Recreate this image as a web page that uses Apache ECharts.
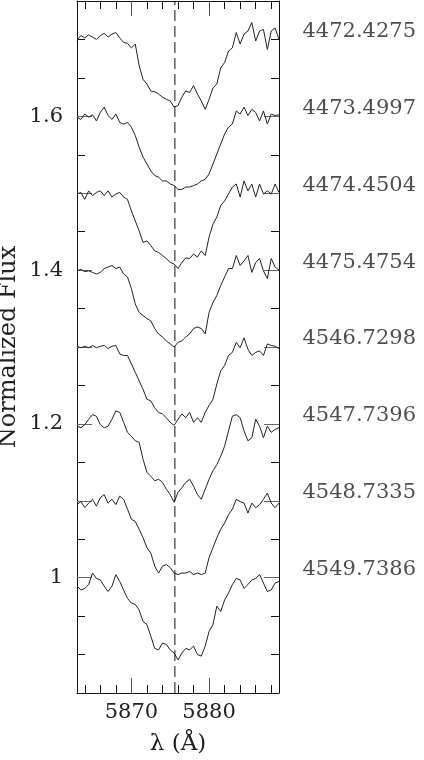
<!DOCTYPE html>
<html>
<head>
<meta charset="utf-8">
<title>He I 5876</title>
<script src="https://cdn.jsdelivr.net/npm/echarts@6/dist/echarts.min.js"></script>
<style>
html,body{margin:0;padding:0;background:#fff;}
#main{width:424px;height:760px;}
</style>
</head>
<body>
<div id="main"></div>
<script>
// wavelength grid (Angstrom)
var wave = [5863,5863.5,5864,5864.5,5865,5865.5,5866,5866.5,5867,5867.5,
	5868,5868.5,5869,5869.5,5870,5870.5,5871,5871.5,5872,5872.5,
	5873,5873.5,5874,5874.5,5875,5875.5,5876,5876.5,5877,5877.5,
	5878,5878.5,5879,5879.5,5880,5880.5,5881,5881.5,5882,5882.5,
	5883,5883.5,5884,5884.5,5885,5885.5,5886,5886.5,5887,5887.5,
	5888,5888.5,5889];

var dates = ['4472.4275','4473.4997','4474.4504','4475.4754','4546.7298','4547.7396','4548.7335','4549.7386'];
var offsets = [0.7,0.6,0.5,0.4,0.3,0.2,0.1,0];

var flux1 = [0.999,1.005,1.002,1.006,1.003,1.000,1.005,1.008,1.003,1.007,
	1.009,1.002,0.996,0.995,0.989,0.994,0.966,0.948,0.942,0.933,
	0.932,0.929,0.925,0.922,0.920,0.912,0.914,0.925,0.933,0.931,
	0.940,0.929,0.920,0.909,0.922,0.937,0.942,0.963,0.970,0.985,
	0.989,1.009,0.994,1.007,1.011,1.022,0.998,1.011,1.013,0.987,
	1.011,1.015,1.000];
var flux2 = [0.999,0.996,1.003,0.999,1.002,0.994,1.005,1.012,1.001,0.996,
	1.003,0.992,0.990,0.992,0.986,0.975,0.960,0.947,0.938,0.929,
	0.923,0.921,0.916,0.916,0.912,0.910,0.905,0.905,0.908,0.908,
	0.910,0.912,0.916,0.918,0.925,0.938,0.951,0.964,0.977,0.986,
	0.990,1.007,1.003,1.012,1.001,1.009,1.005,0.994,1.007,0.990,
	1.003,1.001,1.002];
var flux3 = [0.999,1.001,0.992,1.003,0.997,1.001,1.003,0.997,1.003,0.995,
	0.999,1.001,0.995,0.992,0.977,0.964,0.951,0.936,0.938,0.932,
	0.925,0.923,0.919,0.915,0.910,0.908,0.902,0.910,0.916,0.915,
	0.921,0.917,0.925,0.919,0.943,0.960,0.969,0.984,0.990,0.999,
	1.008,1.012,0.995,1.016,1.003,1.012,0.995,1.012,0.999,1.003,
	0.999,1.012,1.001];
var flux4 = [0.999,1.001,0.998,0.999,0.997,0.995,0.997,1.002,1.004,1.006,
	1.002,1.004,0.995,0.991,0.976,0.956,0.945,0.941,0.937,0.934,
	0.924,0.917,0.913,0.908,0.904,0.900,0.906,0.908,0.913,0.917,
	0.924,0.926,0.924,0.917,0.945,0.958,0.967,0.980,0.991,1.002,
	1.002,1.019,1.006,1.012,1.019,0.997,1.010,1.015,0.999,0.989,
	1.015,1.004,1.000];
var flux5 = [1.001,0.999,1.001,0.999,1.002,0.999,1.001,1.002,0.998,1.001,
	1.002,0.991,0.989,0.989,0.978,0.967,0.956,0.945,0.932,0.930,
	0.921,0.915,0.913,0.908,0.902,0.898,0.906,0.913,0.908,0.915,
	0.902,0.908,0.902,0.915,0.924,0.932,0.952,0.969,0.976,0.989,
	0.993,1.006,0.999,1.012,0.997,0.989,0.993,0.995,0.989,1.004,
	1.002,1.001,0.998];
var flux6 = [0.997,0.995,0.999,1.006,1.012,1.010,0.999,0.995,0.997,1.006,
	1.017,1.015,1.002,0.989,0.984,0.978,0.976,0.954,0.937,0.932,
	0.926,0.928,0.924,0.915,0.908,0.898,0.911,0.917,0.924,0.928,
	0.919,0.908,0.902,0.915,0.928,0.939,0.947,0.958,0.971,0.991,
	1.010,1.012,1.008,0.991,0.978,0.982,1.006,0.997,0.982,0.997,
	0.989,0.993,0.995];
var flux7 = [0.995,0.999,0.991,0.997,1.002,0.993,1.004,1.008,0.997,1.002,
	0.995,1.006,1.002,0.989,0.976,0.973,0.963,0.952,0.939,0.932,
	0.915,0.906,0.915,0.917,0.913,0.906,0.904,0.906,0.906,0.908,
	0.904,0.906,0.904,0.906,0.926,0.939,0.952,0.963,0.971,0.982,
	0.989,1.002,0.999,0.997,0.984,0.997,0.991,0.995,1.002,1.010,
	0.997,0.991,0.997];
var flux8 = [0.989,0.984,0.986,0.991,1.006,0.999,0.997,0.989,0.982,0.989,
	1.004,0.995,0.984,0.973,0.967,0.965,0.958,0.943,0.939,0.924,
	0.908,0.906,0.915,0.913,0.906,0.902,0.893,0.902,0.908,0.906,
	0.911,0.900,0.898,0.911,0.930,0.939,0.963,0.956,0.971,0.980,
	0.991,0.999,0.997,0.986,0.991,0.997,0.999,1.004,0.993,0.982,
	0.984,0.993,0.995];
var fluxList = [flux1,flux2,flux3,flux4,flux5,flux6,flux7,flux8];

// He I 5875.6 rest wavelength
var restLine = 5875.6;

var xMinorTicks = [5864,5866,5868,5870,5872,5874,5876,5878,5880,5882,5884,5886,5888];
var xLabels = [5870,5880];
var yMinorTicks = [0.9,0.95,1,1.05,1.1,1.15,1.2,1.25,1.3,1.35,1.4,1.45,1.5,1.55,1.6,1.65,1.7];
var yMajorTicks = [1,1.1,1.2,1.3,1.4,1.5,1.6];
var yLabels = [1,1.2,1.4,1.6];

var font = 'DejaVu Serif';
var ink = '#222';

function plain(v){ return String(v); }

function xAxisDef(pos, ticks, len, labels, line){
	return {
		type:'value', position:pos, min:5863, max:5889,
		axisLine:{show:line, lineStyle:{color:'#111', width:1}},
		axisTick:{show:true, inside:true, length:len, customValues:ticks, lineStyle:{color: len > 10 ? '#555' : '#111'}},
		axisLabel:labels ? {show:true, customValues:labels, formatter:plain, fontFamily:font, fontSize:21, color:ink, margin:9} : {show:false},
		splitLine:{show:false}
	};
}
function yAxisDef(pos, ticks, len, labels, line){
	return {
		type:'value', position:pos, min:0.85, max:1.75,
		axisLine:{show:line, lineStyle:{color:'#111', width:1}},
		axisTick:{show:true, inside:true, length:len, customValues:ticks, lineStyle:{color: len > 10 ? '#666' : '#111'}},
		axisLabel:labels ? {show:true, customValues:labels, formatter:plain, fontFamily:font, fontSize:21, color:ink, margin:14} : {show:false},
		splitLine:{show:false}
	};
}

var xAxes = [
	xAxisDef('bottom', xMinorTicks, 8, xLabels, true),
	xAxisDef('bottom', xLabels, 15, null, false),
	xAxisDef('top', xMinorTicks, 8, null, true),
	xAxisDef('top', xLabels, 15, null, false)
];
xAxes[0].name = 'λ (Å)';
xAxes[0].nameLocation = 'middle';
xAxes[0].nameGap = 40;
xAxes[0].nameTextStyle = {fontFamily:font, fontSize:23, color:ink};

var yAxes = [
	yAxisDef('left', yMinorTicks, 8, yLabels, true),
	yAxisDef('left', yMajorTicks, 15, null, false),
	yAxisDef('right', yMinorTicks, 8, null, true),
	yAxisDef('right', yMajorTicks, 15, null, false)
];
yAxes[0].name = 'Normalized Flux';
yAxes[0].nameLocation = 'middle';
yAxes[0].nameGap = 56;
yAxes[0].nameTextStyle = {fontFamily:font, fontSize:24, color:ink};

var series = [];
for(var k = 0; k < fluxList.length; k++){
	var pts = [];
	for(var i = 0; i < wave.length; i++){
		pts.push([wave[i], fluxList[k][i] + offsets[k]]);
	}
	series.push({
		name: dates[k], type:'line', data:pts, symbol:'none', clip:true,
		lineStyle:{color:ink, width:1}
	});
}
// dashed rest-wavelength marker
series.push({
	type:'line', data:[[restLine,0.85],[restLine,1.75]], symbol:'none',
	lineStyle:{color:'#111', width:1, type:[11,5]}
});
// observation dates at the right
var tags = [];
for(var k = 0; k < dates.length; k++){
	tags.push([5889, 1 + offsets[k], dates[k]]);
}
series.push({
	type:'scatter', data:tags, symbolSize:1, clip:false,
	itemStyle:{color:'rgba(0,0,0,0)'},
	label:{show:true, position:'right', distance:23, offset:[0,-8],
		fontFamily:font, fontSize:21, color:ink,
		formatter:function(p){ return p.value[2]; }}
});

var myChart = echarts.init(document.getElementById('main'));
myChart.setOption({
	animation:false,
	backgroundColor:'#fff',
	grid:{left:77, right:145, top:1, bottom:67, containLabel:false, outerBoundsMode:'none'},
	xAxis:xAxes,
	yAxis:yAxes,
	series:series
});
</script>
</body>
</html>
